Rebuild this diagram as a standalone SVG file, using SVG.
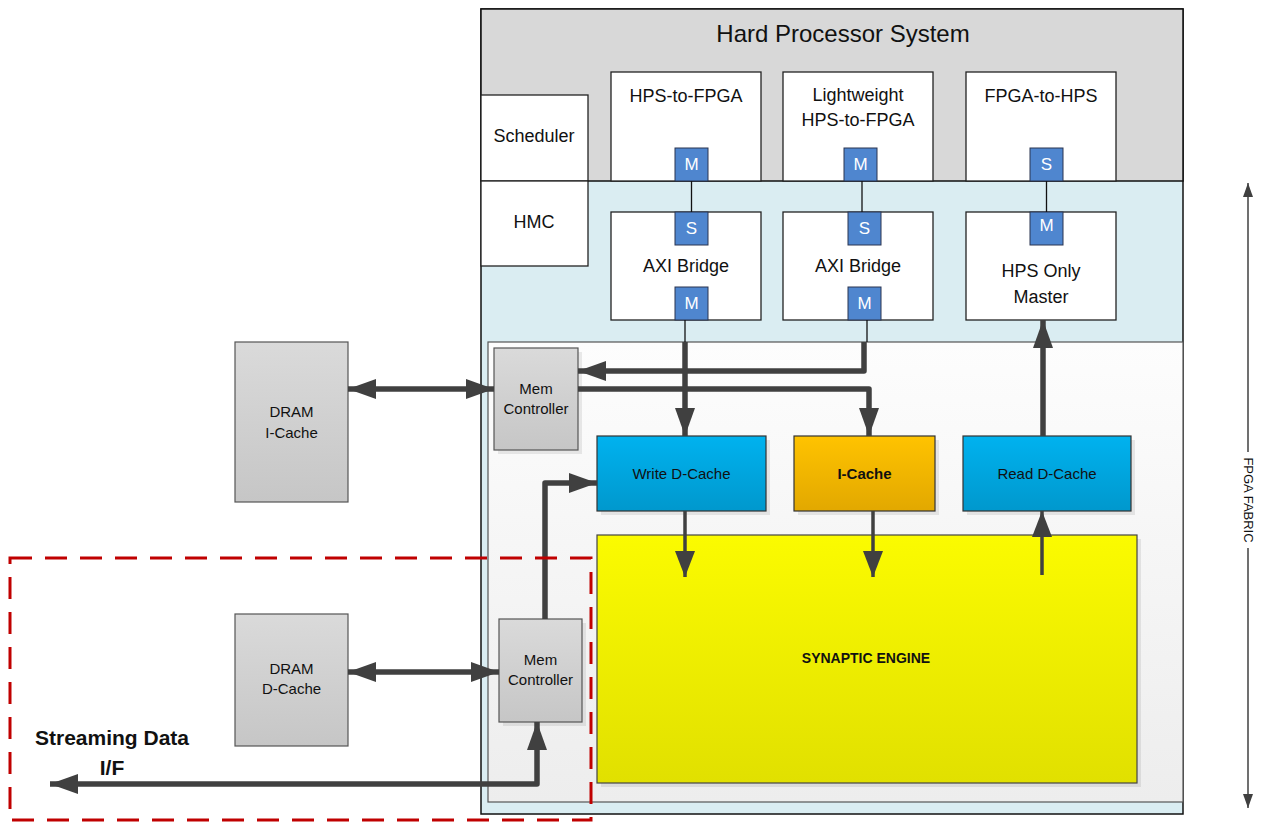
<svg xmlns="http://www.w3.org/2000/svg" width="1262" height="828" viewBox="0 0 1262 828">
<defs>
<style>
text{font-family:"Liberation Sans",Arial,sans-serif;fill:#111;text-anchor:middle}
.t18{font-size:18px}
.t14{font-size:15px}
.box{fill:#fff;stroke:#222;stroke-width:1.3}
.badge{fill:#4f86cf;stroke:#2a3550;stroke-width:1}
.bt{font-size:17px;fill:#fff}
.gray{fill:url(#gGray);stroke:#555;stroke-width:1.2}
.sh{fill:#000;opacity:0.08}
.thin{stroke:#111;stroke-width:1.3;fill:none}
.thick{stroke:#404040;stroke-width:5.5;fill:none;stroke-linejoin:round}
.mid{stroke:#404040;stroke-width:3.5;fill:none}
</style>
<linearGradient id="gGray" x1="0" y1="0" x2="0" y2="1"><stop offset="0" stop-color="#dadada"/><stop offset="1" stop-color="#c6c6c6"/></linearGradient>
<linearGradient id="gBlue" x1="0" y1="0" x2="0" y2="1"><stop offset="0" stop-color="#00b2ef"/><stop offset="1" stop-color="#0098cd"/></linearGradient>
<linearGradient id="gOrange" x1="0" y1="0" x2="0" y2="1"><stop offset="0" stop-color="#ffc300"/><stop offset="1" stop-color="#e2a800"/></linearGradient>
<linearGradient id="gYellow" x1="0" y1="0" x2="0" y2="1"><stop offset="0" stop-color="#fbfb00"/><stop offset="1" stop-color="#e1e000"/></linearGradient>
<linearGradient id="gPanel" x1="0" y1="0" x2="0" y2="1"><stop offset="0" stop-color="#fdfdfd"/><stop offset="1" stop-color="#ededed"/></linearGradient>
<marker id="ah" markerUnits="userSpaceOnUse" markerWidth="30" markerHeight="22" refX="28" refY="10" orient="auto-start-reverse" viewBox="0 0 30 22"><path d="M0,0 L28,10 L0,20 z" fill="#404040"/></marker>
<marker id="ahs" markerUnits="userSpaceOnUse" markerWidth="28" markerHeight="22" refX="26" refY="10" orient="auto-start-reverse" viewBox="0 0 28 22"><path d="M0,0 L26,10 L0,20 z" fill="#404040"/></marker>
<marker id="aht" markerUnits="userSpaceOnUse" markerWidth="16" markerHeight="12" refX="14" refY="5" orient="auto-start-reverse" viewBox="0 0 16 12"><path d="M0,0 L14,5 L0,10 z" fill="#404040"/></marker>
</defs>
<rect width="1262" height="828" fill="#fff"/>

<g id="hps">
<rect x="481" y="9" width="702" height="805" fill="#daedf2" stroke="#111" stroke-width="1.5"/>
<rect x="481" y="9" width="702" height="172" fill="#d8d8d8" stroke="#111" stroke-width="1.5"/>
<text x="843" y="42" style="font-size:24px">Hard Processor System</text>
</g>
<g id="fabric-panel">
<rect x="488" y="342" width="695" height="460" fill="url(#gPanel)" stroke="#555" stroke-width="1.2"/>
</g>

<g id="scheduler"><rect class="box" x="481" y="95" width="107" height="86"/><text class="t18" x="534" y="142">Scheduler</text></g>
<g id="hmc"><rect class="box" x="481" y="181" width="107" height="85"/><text class="t18" x="534" y="228">HMC</text></g>

<g id="hps-to-fpga"><rect class="box" x="611" y="72" width="150" height="109"/><text class="t18" x="686" y="102">HPS-to-FPGA</text>
<rect class="badge" x="675" y="148" width="33" height="33"/><text class="bt" x="691.5" y="170">M</text></g>
<g id="lw-hps-to-fpga"><rect class="box" x="783" y="72" width="150" height="109"/><text class="t18" x="858" y="101">Lightweight</text><text class="t18" x="858" y="126">HPS-to-FPGA</text>
<rect class="badge" x="844" y="148" width="33" height="33"/><text class="bt" x="860.5" y="170">M</text></g>
<g id="fpga-to-hps"><rect class="box" x="966" y="72" width="150" height="109"/><text class="t18" x="1041" y="102">FPGA-to-HPS</text>
<rect class="badge" x="1030" y="148" width="33" height="33"/><text class="bt" x="1046.5" y="170">S</text></g>

<g id="axi-bridge-1"><rect class="box" x="611" y="212" width="150" height="108"/>
<rect class="badge" x="675" y="212" width="33" height="33"/><text class="bt" x="691.5" y="234">S</text>
<text class="t18" x="686" y="272">AXI Bridge</text>
<rect class="badge" x="675" y="287" width="33" height="33"/><text class="bt" x="691.5" y="309">M</text></g>
<g id="axi-bridge-2"><rect class="box" x="783" y="212" width="150" height="108"/>
<rect class="badge" x="848" y="212" width="33" height="33"/><text class="bt" x="864.5" y="234">S</text>
<text class="t18" x="858" y="272">AXI Bridge</text>
<rect class="badge" x="848" y="287" width="33" height="33"/><text class="bt" x="864.5" y="309">M</text></g>
<g id="hps-only-master"><rect class="box" x="966" y="212" width="150" height="108"/>
<rect class="badge" x="1030" y="212" width="33" height="33"/><text class="bt" x="1046.5" y="231">M</text>
<text class="t18" x="1041" y="277">HPS Only</text><text class="t18" x="1041" y="303">Master</text></g>

<g id="dram-icache"><rect class="gray" x="235" y="342" width="113" height="160"/><text class="t14" x="291.5" y="417">DRAM</text><text class="t14" x="291.5" y="438">I-Cache</text></g>
<g id="mem-ctrl-1"><rect class="sh" x="498" y="352" width="84" height="102"/><rect class="gray" x="494" y="348" width="84" height="102"/><text class="t14" x="536" y="394">Mem</text><text class="t14" x="536" y="414">Controller</text></g>

<g id="write-dcache"><rect class="sh" x="601" y="440" width="169" height="75"/><rect x="597" y="436" width="169" height="75" fill="url(#gBlue)" stroke="#333" stroke-width="1.2"/><text class="t14" x="681.5" y="479">Write D-Cache</text></g>
<g id="icache"><rect class="sh" x="798" y="440" width="141" height="75"/><rect x="794" y="436" width="141" height="75" fill="url(#gOrange)" stroke="#333" stroke-width="1.2"/><text class="t14" x="864.5" y="479" style="font-weight:bold">I-Cache</text></g>
<g id="read-dcache"><rect class="sh" x="967" y="440" width="168" height="75"/><rect x="963" y="436" width="168" height="75" fill="url(#gBlue)" stroke="#333" stroke-width="1.2"/><text class="t14" x="1047" y="479">Read D-Cache</text></g>
<g id="synaptic-engine"><rect class="sh" x="601" y="539" width="540" height="248"/><rect x="597" y="535" width="540" height="248" fill="url(#gYellow)" stroke="#444" stroke-width="1.2"/><text x="866" y="663" style="font-size:14px;font-weight:bold">SYNAPTIC ENGINE</text></g>

<g id="dram-dcache"><rect class="gray" x="235" y="614" width="113" height="132"/><text class="t14" x="291.5" y="674">DRAM</text><text class="t14" x="291.5" y="694">D-Cache</text></g>
<g id="mem-ctrl-2"><rect class="sh" x="503" y="623" width="83" height="103"/><rect class="gray" x="499" y="619" width="83" height="103"/><text class="t14" x="540.5" y="665">Mem</text><text class="t14" x="540.5" y="685">Controller</text></g>

<g id="streaming-label"><text x="112" y="745" style="font-size:21px;font-weight:bold">Streaming Data</text><text x="112" y="775" style="font-size:21px;font-weight:bold">I/F</text></g>

<g id="connectors">
<path class="thin" d="M691.5,181 V212"/>
<path class="thin" d="M862,181 V212"/>
<path class="thin" d="M1046.5,181 V212"/>
<path class="thin" d="M685,320 V342"/>
<path class="thin" d="M867,320 V342"/>
<path class="thick" d="M685,342 V436" marker-end="url(#ah)"/>
<path class="thick" d="M864,342 V371 H578" marker-end="url(#ah)"/>
<path class="thick" d="M578,389 H869 V436" marker-end="url(#ah)"/>
<path class="thick" d="M1043,436 V320" marker-end="url(#ah)"/>
<path class="mid" d="M685,511 V577" marker-end="url(#ahs)"/>
<path class="mid" d="M873,511 V577" marker-end="url(#ahs)"/>
<path class="mid" d="M1042,575 V511" marker-end="url(#ahs)"/>
<path class="thick" d="M348,389 H494" marker-start="url(#ah)" marker-end="url(#ah)"/>
<path class="thick" d="M348,672 H499" marker-start="url(#ah)" marker-end="url(#ah)"/>
<path class="thick" d="M545,619 V483 H597" marker-end="url(#ah)"/>
<path class="thick" d="M50,784 H537 V722" marker-start="url(#ah)" marker-end="url(#ah)"/>
</g>

<g id="streaming-boundary">
<rect x="10" y="558" width="581" height="262" fill="none" stroke="#c00000" stroke-width="3" stroke-dasharray="22,13"/>
</g>

<g id="fpga-fabric">
<line x1="1248" y1="183" x2="1248" y2="452" stroke="#404040" stroke-width="1.5" marker-start="url(#aht)"/>
<line x1="1248" y1="548" x2="1248" y2="808" stroke="#404040" stroke-width="1.5" marker-end="url(#aht)"/>
<text x="1248" y="500" transform="rotate(90 1248 500)" dy="4.5" style="font-size:13px">FPGA FABRIC</text>
</g>
</svg>
